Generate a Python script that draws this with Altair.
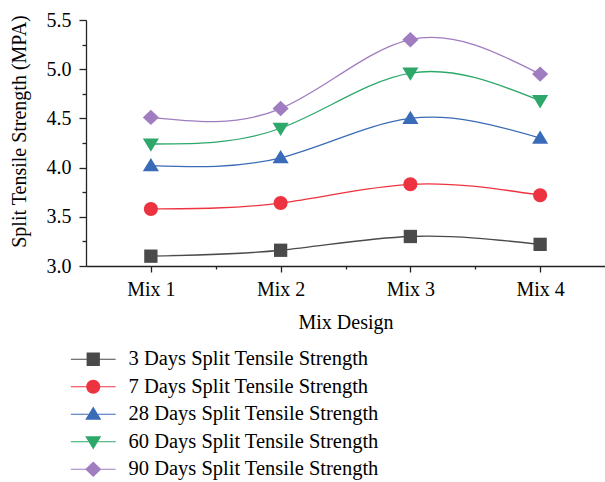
import json
import altair as alt
import pandas as pd

categories = ["Mix 1", "Mix 2", "Mix 3", "Mix 4"]
series = [
    "3 Days Split Tensile Strength",
    "7 Days Split Tensile Strength",
    "28 Days Split Tensile Strength",
    "60 Days Split Tensile Strength",
    "90 Days Split Tensile Strength",
]
d3 = [3.10, 3.16, 3.30, 3.22]
d7 = [3.58, 3.64, 3.83, 3.72]
d28 = [4.02, 4.10, 4.50, 4.30]
d60 = [4.24, 4.40, 4.96, 4.68]
d90 = [4.51, 4.60, 5.30, 4.95]
y_major = [3.0, 3.5, 4.0, 4.5, 5.0, 5.5]
y_minor = [3.25, 3.75, 4.25, 4.75, 5.25]

colors = ["#4a4a4a", "#ee3340", "#3a6bb8", "#2ea86a", "#a07cc0"]
FONT = "Liberation Serif"

markers = [
    "M-0.95,-0.95H0.95V0.95H-0.95Z",
    "M-1,0A1,1,0,1,1,1,0A1,1,0,1,1,-1,0Z",
    "M-1.15,0.8L1.15,0.8L0,-1.1Z",
    "M-1.15,-0.8L1.15,-0.8L0,1.1Z",
    "M-1.15,0L0,-1.1L1.15,0L0,1.1Z",
]
seg = "M-3.2,-0.08H-0.7V0.08H-3.2Z M0.7,-0.08H3.2V0.08H0.7Z "
legend_paths = [seg + m for m in markers]

rows = []
for s, vals in zip(series, [d3, d7, d28, d60, d90]):
    for i, (c, v) in enumerate(zip(categories, vals)):
        rows.append({"series": s, "mix": c, "pos": i + 1, "value": v})
df = pd.DataFrame(rows)

xscale = alt.Scale(domain=[0.5, len(categories) + 0.5], nice=False, zero=False)
yscale = alt.Scale(domain=[3.0, 5.5], nice=False, zero=False)
label_expr = json.dumps(categories) + "[datum.value - 1]"

def cscale():
    return alt.Scale(domain=series, range=colors)

lines = alt.Chart(df).mark_line(interpolate="natural", strokeWidth=1.3).encode(
    x=alt.X("pos:Q", scale=xscale, axis=None),
    y=alt.Y("value:Q", scale=yscale, axis=None),
    color=alt.Color("series:N", scale=cscale(), legend=None),
)

points = alt.Chart(df).mark_point(filled=True, size=196, opacity=1).encode(
    x=alt.X("pos:Q", scale=xscale, title="Mix Design",
            axis=alt.Axis(values=[1, 2, 3, 4], labelExpr=label_expr, tickSize=6,
                          orient="bottom", grid=False, labelPadding=7, titlePadding=13)),
    y=alt.Y("value:Q", scale=yscale, title="Split Tensile Strength (MPA)",
            axis=alt.Axis(values=y_major, format=".1f", tickSize=7, orient="left",
                          grid=False, labelPadding=8, titlePadding=17, titleY=111)),
    color=alt.Color("series:N", scale=cscale(), legend=None),
    shape=alt.Shape("series:N", scale=alt.Scale(domain=series, range=markers), legend=None),
)

leg = alt.Legend(orient="none", legendX=-3, legendY=329, title=None, padding=0,
                 symbolSize=196, labelOffset=25, labelFont=FONT, labelFontSize=20.5,
                 labelColor="black", labelLimit=0, rowPadding=6.5, symbolStrokeWidth=0,
                 symbolOpacity=1)

legend_layer = alt.Chart(df).transform_filter("false").mark_point(filled=True, size=196, opacity=1).encode(
    x=alt.X("pos:Q", scale=xscale, title=None,
            axis=alt.Axis(values=[1.5, 2.5, 3.5], labels=False, domain=False, tickSize=3,
                          orient="bottom", grid=False)),
    y=alt.Y("value:Q", scale=yscale, title=None,
            axis=alt.Axis(values=y_minor, labels=False, domain=False, tickSize=4,
                          orient="left", grid=False)),
    color=alt.Color("series:N", scale=cscale(), legend=leg),
    shape=alt.Shape("series:N", scale=alt.Scale(domain=series, range=legend_paths), legend=leg),
)

chart = alt.layer(lines, points, legend_layer).resolve_scale(
    color="independent", shape="independent"
).resolve_axis(x="independent", y="independent").properties(
    width=519, height=246,
    autosize=alt.AutoSizeParams(type="none"),
    padding={"left": 86, "top": 20, "right": 0, "bottom": 216},
).configure_view(stroke=None).configure_axis(
    domainColor="#222", domainWidth=1.3, tickColor="#222", tickWidth=1.3,
    labelFont=FONT, labelFontSize=20, labelColor="black",
    titleFont=FONT, titleFontSize=20, titleFontWeight="normal", titleColor="black",
)

chart.save("out.html", embed_options={"renderer": "svg", "actions": False})
